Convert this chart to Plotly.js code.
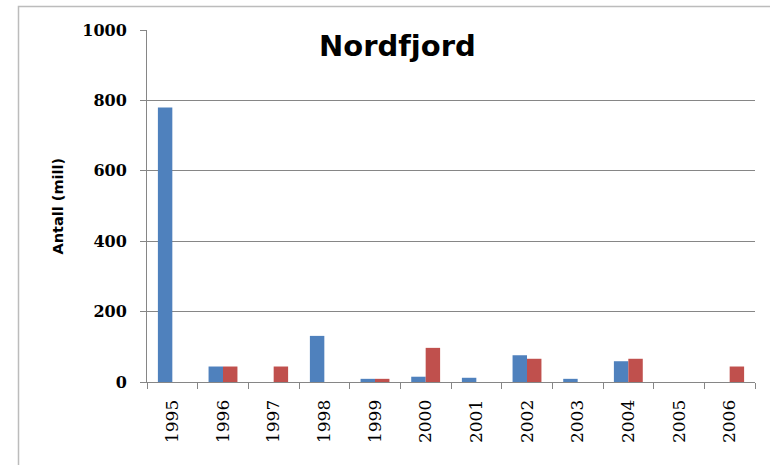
<!DOCTYPE html>
<html>
<head>
<meta charset="utf-8">
<script src="https://cdn.plot.ly/plotly-3.0.1.min.js"></script>
<style>
html,body{margin:0;padding:0;background:#fff;}
#chart{width:770px;height:465px;}
</style>
</head>
<body>
<div id="chart"></div>
<script>
const years = ["1995","1996","1997","1998","1999","2000","2001","2002","2003","2004","2005","2006"];
const seriesBlue = [780, 44, 0, 131, 9, 15, 12, 76, 9, 59, 0, 0];
const seriesRed = [0, 44, 44, 0, 9, 97, 0, 66, 0, 66, 0, 44];
const yTicks = [0, 200, 400, 600, 800, 1000];
const chartTitle = "Nordfjord";
const yTitle = "Antall (mill)";

const traces = [
  {type: "bar", x: years, y: seriesBlue, marker: {color: "#4F81BD"}, name: "A", hoverinfo: "x+y"},
  {type: "bar", x: years, y: seriesRed, marker: {color: "#C0504D"}, name: "B", hoverinfo: "x+y"}
];

const layout = {
  width: 770, height: 465,
  margin: {l: 147, r: 15, t: 30, b: 83},
  paper_bgcolor: "#ffffff", plot_bgcolor: "#ffffff",
  showlegend: false,
  barmode: "group", bargap: 0.43, bargroupgap: 0,
  xaxis: {
    type: "category", categoryarray: years,
    showline: true, linecolor: "#868686", linewidth: 1,
    ticks: "outside", tickson: "boundaries", ticklen: 6, tickcolor: "#868686",
    tickangle: -90, ticklabelstandoff: 10,
    tickfont: {family: "DejaVu Serif", size: 17, color: "#000"},
    showgrid: false, zeroline: false, fixedrange: true
  },
  yaxis: {
    range: [0, 1000], tickvals: yTicks, ticktext: yTicks.map(String),
    showline: true, linecolor: "#868686", linewidth: 1,
    ticks: "outside", ticklen: 6, tickcolor: "#868686",
    ticklabelstandoff: 10,
    tickfont: {family: "DejaVu Serif", size: 16, color: "#000", weight: "bold"},
    showgrid: true, gridcolor: "#868686", gridwidth: 1,
    zeroline: false, fixedrange: true
  },
  annotations: [
    {text: chartTitle, xref: "paper", yref: "paper", x: (397-147)/608, y: 1 - (46-30)/352,
     xanchor: "center", yanchor: "middle", showarrow: false,
     font: {family: "DejaVu Sans", size: 29, color: "#000", weight: "bold"}},
    {text: yTitle, xref: "paper", yref: "paper", x: (57-147)/608, y: 1 - (206.5-30)/352,
     xanchor: "center", yanchor: "middle", showarrow: false, textangle: -90,
     font: {family: "DejaVu Sans", size: 14.5, color: "#000", weight: "bold"}}
  ],
  shapes: [
    {type: "rect", xref: "paper", yref: "paper",
     x0: (18.5-147)/608, x1: (790-147)/608, y0: -0.4, y1: 1 + (30-6.5)/352,
     line: {color: "#bcbcbc", width: 1.5}, fillcolor: "rgba(0,0,0,0)", layer: "below"}
  ]
};

Plotly.newPlot("chart", traces, layout, {staticPlot: true});
</script>
</body>
</html>
